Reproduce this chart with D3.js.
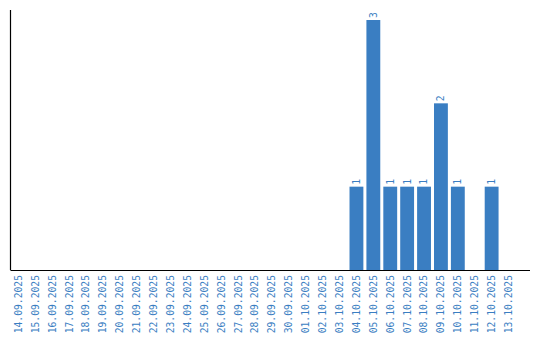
<html>
    <head>
        <style>
            body { margin: 0; background: #fff; }
            .bar { fill: #3a7ec2; }
            text { font-family: "DejaVu Sans Mono", monospace; fill: #3a7ec2; }
        </style>
        <script src="https://d3js.org/d3.v7.min.js"></script>
    </head>
    <body>
        <svg width="540" height="340"></svg>
        <script>
            // days shown on the x axis
            let days = ["14.09.2025", "15.09.2025", "16.09.2025", "17.09.2025", "18.09.2025",
                        "19.09.2025", "20.09.2025", "21.09.2025", "22.09.2025", "23.09.2025",
                        "24.09.2025", "25.09.2025", "26.09.2025", "27.09.2025", "28.09.2025",
                        "29.09.2025", "30.09.2025", "01.10.2025", "02.10.2025", "03.10.2025",
                        "04.10.2025", "05.10.2025", "06.10.2025", "07.10.2025", "08.10.2025",
                        "09.10.2025", "10.10.2025", "11.10.2025", "12.10.2025", "13.10.2025"]
            let counts = [0, 0, 0, 0, 0, 0, 0, 0, 0, 0,
                          0, 0, 0, 0, 0, 0, 0, 0, 0, 0,
                          1, 3, 1, 1, 1, 2, 1, 0, 1, 0]

            let data = days.map(function(d, i) { return {day: d, count: counts[i]} })

            let svg = d3.select("svg"),
                plotLeft = 10.5, plotRight = 530, plotTop = 20, plotBottom = 270

            let xScale = d3.scaleBand().domain(days).range([8.5, 518.5]).padding(0.18),
                yScale = d3.scaleLinear().domain([0, d3.max(counts)]).range([plotBottom, plotTop])

            // x labels, rotated
            let xAxis = svg.append("g")
                .attr("transform", "translate(0," + plotBottom + ")")
                .call(d3.axisBottom(xScale).tickSize(0).tickPadding(0))
            xAxis.select(".domain").remove()
            xAxis.selectAll("text")
                .attr("transform", "rotate(-90)")
                .attr("x", -5)
                .attr("y", 0)
                .attr("dy", "0.35em")
                .attr("font-size", 9.7)
                .attr("fill", "#3a7ec2")
                .style("font-family", "DejaVu Sans Mono, monospace")
                .style("text-anchor", "end")

            svg.selectAll(".bar")
                .data(data.filter(function(d) { return d.count > 0 }))
                .enter().append("rect")
                .attr("class", "bar")
                .attr("x", function(d) { return xScale(d.day) })
                .attr("y", function(d) { return yScale(d.count) })
                .attr("width", xScale.bandwidth())
                .attr("height", function(d) { return plotBottom - yScale(d.count) })

            svg.selectAll(".val")
                .data(data.filter(function(d) { return d.count > 0 }))
                .enter().append("text")
                .attr("class", "val")
                .attr("font-size", 9.7)
                .attr("text-anchor", "start")
                .attr("dy", "0.35em")
                .attr("transform", function(d) {
                    return "translate(" + (xScale(d.day) + xScale.bandwidth() / 2) + "," + (yScale(d.count) - 2) + ") rotate(-90)"
                })
                .text(function(d) { return d.count })

            // axis lines
            svg.append("line")
                .attr("x1", plotLeft).attr("x2", plotLeft)
                .attr("y1", 10).attr("y2", plotBottom)
                .attr("stroke", "black").attr("stroke-width", 1.2)
            svg.append("line")
                .attr("x1", plotLeft).attr("x2", plotRight)
                .attr("y1", plotBottom + 0.5).attr("y2", plotBottom + 0.5)
                .attr("stroke", "black").attr("stroke-width", 1.2)
        </script>
    </body>
</html>
